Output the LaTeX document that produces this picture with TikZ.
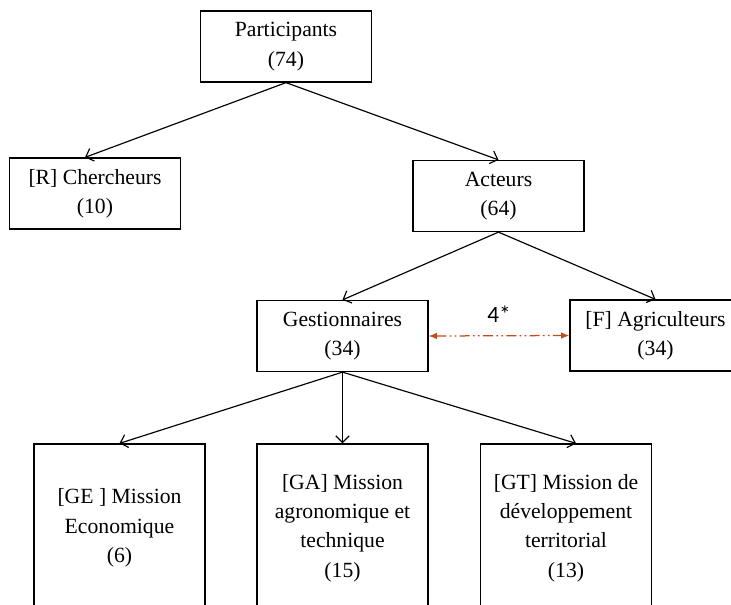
\documentclass[tikz,border=0pt]{standalone}
\usepackage{fontspec}
\setmainfont{Liberation Serif}
\newfontfamily\labelfont{Carlito}
\usepackage{xcolor}
\usepackage{tikz}
\usetikzlibrary{arrows.meta}
\definecolor{liencouleur}{RGB}{196,76,28}
\tikzset{
	boite/.style={draw,rectangle,align=center,line width=0.75pt,minimum width=102.6pt,minimum height=42.6pt,inner sep=2pt,font=\fontsize{13}{17.6}\selectfont},
	grande/.style={boite,minimum height=100.8pt},
	fleche/.style={-{Straight Barb[length=4pt,width=8pt]},line width=0.7pt},
}

\begin{document}
\begin{tikzpicture}[x=0.6pt,y=-0.6pt]
\useasboundingbox (0,0) rectangle (731,605);

\node[boite] (part) at (286,46.5) {Participants\\(74)};
\node[boite] (cherch) at (95,193.5) {[R] Chercheurs\\(10)};
\node[boite] (act) at (498.5,196) {Acteurs\\(64)};
\node[boite] (gest) at (342.5,336) {Gestionnaires\\(34)};
\node[boite] (agri) at (655.5,335.5) {[F] Agriculteurs\\(34)};
\node[grande] (ge) at (119.5,528) {[GE ] Mission\\Economique\\(6)};
\node[grande] (ga) at (342.5,528) {[GA] Mission\\agronomique et\\technique\\(15)};
\node[grande] (gt) at (566,528) {[GT] Mission de\\d\'eveloppement\\territorial\\(13)};

\draw[fleche] (part.south) -- ([xshift=-6pt]cherch.north);
\draw[fleche] (part.south) -- (act.north);
\draw[fleche] (act.south) -- (gest.north);
\draw[fleche] (act.south) -- (agri.north);
\draw[fleche] (gest.south) -- (ge.north);
\draw[fleche] (gest.south) -- (ga.north);
\draw[fleche] (gest.south) -- ([xshift=6pt]gt.north);

\draw[{Latex[length=5pt,width=4pt]}-{Latex[length=5pt,width=4pt]},liencouleur,line width=0.75pt,dash pattern=on 6pt off 2pt on 1pt off 2pt on 1pt off 2pt] (gest.east) -- (agri.west) node[midway,above=4pt,black,font=\labelfont\fontsize{14}{16}\selectfont] (lien) {4*};

\end{tikzpicture}
\end{document}
